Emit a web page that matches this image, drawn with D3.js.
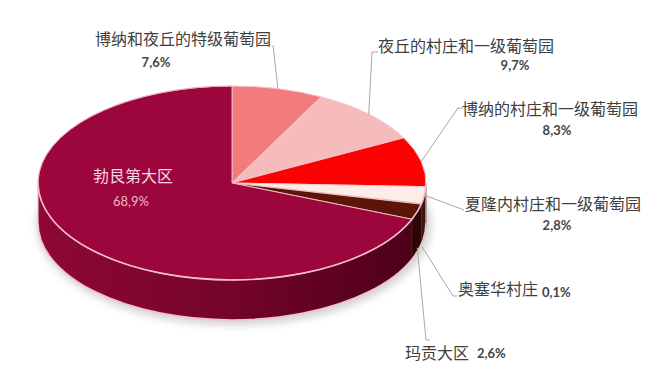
<!DOCTYPE html>
<html>
<head>
<meta charset="utf-8">
<script src="https://cdn.jsdelivr.net/npm/d3@7/dist/d3.min.js"></script>
<style>
  html, body { margin: 0; padding: 0; background: #fff; }
  svg { display: block; }
</style>
</head>
<body>
<svg id="chart" width="650" height="384"></svg>
<script>
// Burgundy wine production by appellation level (share of total, %)
const categories = [
  "博纳和夜丘的特级葡萄园",
  "夜丘的村庄和一级葡萄园",
  "博纳的村庄和一级葡萄园",
  "夏隆内村庄和一级葡萄园",
  "奥塞华村庄",
  "玛贡大区",
  "勃艮第大区"
];
const values = [7.6, 9.7, 8.3, 2.8, 0.1, 2.6, 68.9];
const topColors  = ["#F47B7B", "#F6BBBB", "#FA0202", "#FCEDE6", "#B00020", "#5E1507", "#9C063D"];
const sideColors = ["#B84545", "#C08A8A", "#A00000", "#3A1812", "#2A0404", "#2A0604", "url(#sideGrad)"];

// label placement (name, percentage, leader route)
const labelLayout = [
  { nx: 183, ny: 38,  na: "middle", px: 156, py: 62,  pa: "middle", route: [[273, 45]], drop: 0 },
  { nx: 466, ny: 45,  na: "middle", px: 515, py: 65,  pa: "middle", route: [[378, 52], [372, 52]], drop: 0 },
  { nx: 550, ny: 108, na: "middle", px: 557, py: 130, pa: "middle", route: [[463, 108], [458, 108]], drop: 0 },
  { nx: 553, ny: 203, na: "middle", px: 557, py: 225, pa: "middle", route: [[464, 210]], drop: 0 },
  { nx: 458, ny: 288, na: "start",  px: 542, py: 292, pa: "start",  route: [[457, 296], [453, 296]], drop: 42 },
  { nx: 405, ny: 352, na: "start",  px: 477, py: 353, pa: "start",  route: [[430, 340], [426, 340]], drop: 36 },
  { nx: 133, ny: 175, na: "middle", px: 131, py: 201, pa: "middle", route: null, drop: 0 }
];

const fmtPct = v => d3.format(".1f")(v).replace(".", ",") + "%";

const svg = d3.select("#chart");
const cx = 232, cy = 183, rx = 194, ry = 97, depth = 40;

const P = (a, dy = 0) => [cx + rx * Math.sin(a), cy - ry * Math.cos(a) + dy];

const defs = svg.append("defs");
const grad = defs.append("linearGradient")
  .attr("id", "sideGrad").attr("gradientUnits", "userSpaceOnUse")
  .attr("x1", cx - rx).attr("x2", cx + rx).attr("y1", 0).attr("y2", 0);
grad.append("stop").attr("offset", "0%").attr("stop-color", "#8E0834");
grad.append("stop").attr("offset", "50%").attr("stop-color", "#74042A");
grad.append("stop").attr("offset", "100%").attr("stop-color", "#4A0019");

const blur = defs.append("filter").attr("id", "soft").attr("x", "-20%").attr("y", "-20%").attr("width", "140%").attr("height", "140%");
blur.append("feGaussianBlur").attr("stdDeviation", 4);

const arcs = d3.pie().sort(null).value(d => d).startAngle(0).endAngle(2 * Math.PI)(values);

// soft shadow under the disc
svg.append("ellipse")
  .attr("cx", cx + 2).attr("cy", cy + depth + 2)
  .attr("rx", rx + 3).attr("ry", ry + 3)
  .attr("fill", "#000").attr("opacity", 0.18)
  .attr("filter", "url(#soft)");

// side walls (front half only)
const sidePath = (a0, a1) => {
  const s0 = Math.max(a0, Math.PI / 2), s1 = Math.min(a1, 3 * Math.PI / 2);
  if (s1 <= s0) return null;
  const p0 = P(s0), p1 = P(s1), q1 = P(s1, depth), q0 = P(s0, depth);
  return `M${p0}A${rx},${ry} 0 0 1 ${p1}L${q1}A${rx},${ry} 0 0 0 ${q0}Z`;
};

svg.append("g").selectAll("path")
  .data(arcs.filter(d => sidePath(d.startAngle, d.endAngle)))
  .join("path")
  .attr("d", d => sidePath(d.startAngle, d.endAngle))
  .attr("fill", d => sideColors[d.index])
  .attr("stroke", d => d.index === 6 ? "none" : "#6a2a2a")
  .attr("stroke-width", 0.5);

// rim lines along the front wall
const frontTop = `M${P(Math.PI / 2)}A${rx},${ry} 0 0 1 ${P(3 * Math.PI / 2)}`;
const frontBot = `M${P(Math.PI / 2, depth)}A${rx},${ry} 0 0 1 ${P(3 * Math.PI / 2, depth)}`;
svg.append("path").attr("d", frontBot).attr("fill", "none").attr("stroke", "#F2C0CE").attr("stroke-width", 1.6);
svg.append("path").attr("d", `M${P(Math.PI / 2)}L${P(Math.PI / 2, depth)}`).attr("stroke", "#d9b3b8").attr("stroke-width", 1.2);
svg.append("path").attr("d", `M${P(3 * Math.PI / 2)}L${P(3 * Math.PI / 2, depth)}`).attr("stroke", "#F2C0CE").attr("stroke-width", 1.2);

// top faces
const topPath = (a0, a1) => {
  const p0 = P(a0), p1 = P(a1);
  const large = (a1 - a0) > Math.PI ? 1 : 0;
  return `M${cx},${cy}L${p0}A${rx},${ry} 0 ${large} 1 ${p1}Z`;
};
svg.append("g").selectAll("path")
  .data(arcs)
  .join("path")
  .attr("d", d => topPath(d.startAngle, d.endAngle))
  .attr("fill", d => topColors[d.index])
  .attr("stroke", "#F3C6CF")
  .attr("stroke-width", 0.9)
  .attr("stroke-linejoin", "round");

svg.append("path").attr("d", frontTop).attr("fill", "none").attr("stroke", "#F4BCCB").attr("stroke-width", 1.6);
svg.append("path").attr("d", `M${P(3 * Math.PI / 2)}A${rx},${ry} 0 0 1 ${P(0)}`).attr("fill", "none").attr("stroke", "#E8AFC0").attr("stroke-width", 1);

// leader lines
const leaderGen = d3.line();
svg.append("g").selectAll("path")
  .data(arcs.filter(d => labelLayout[d.index].route))
  .join("path")
  .attr("d", d => {
    const L = labelLayout[d.index];
    const mid = (d.startAngle + d.endAngle) / 2;
    return leaderGen([...L.route, P(mid, L.drop)]);
  })
  .attr("fill", "none")
  .attr("stroke", "#A8A8A8")
  .attr("stroke-width", 1);

// labels
const lab = svg.append("g").selectAll("g").data(arcs).join("g");
lab.append("text")
  .attr("x", d => labelLayout[d.index].nx)
  .attr("y", d => labelLayout[d.index].ny)
  .attr("text-anchor", d => labelLayout[d.index].na)
  .attr("dominant-baseline", "central")
  .attr("font-family", "'Noto Sans CJK SC', sans-serif")
  .attr("font-size", 16)
  .attr("fill", d => d.index === 6 ? "#F4D6E0" : "#404040")
  .text(d => categories[d.index]);
lab.append("text")
  .attr("x", d => labelLayout[d.index].px)
  .attr("y", d => labelLayout[d.index].py)
  .attr("text-anchor", d => labelLayout[d.index].pa)
  .attr("dominant-baseline", "central")
  .attr("font-family", "Lato, 'Open Sans', sans-serif")
  .attr("font-weight", d => d.index === 6 ? 400 : 700)
  .attr("font-size", 13)
  .attr("fill", d => d.index === 6 ? "#F0B8CC" : "#454545")
  .text(d => fmtPct(values[d.index]));
</script>
</body>
</html>
